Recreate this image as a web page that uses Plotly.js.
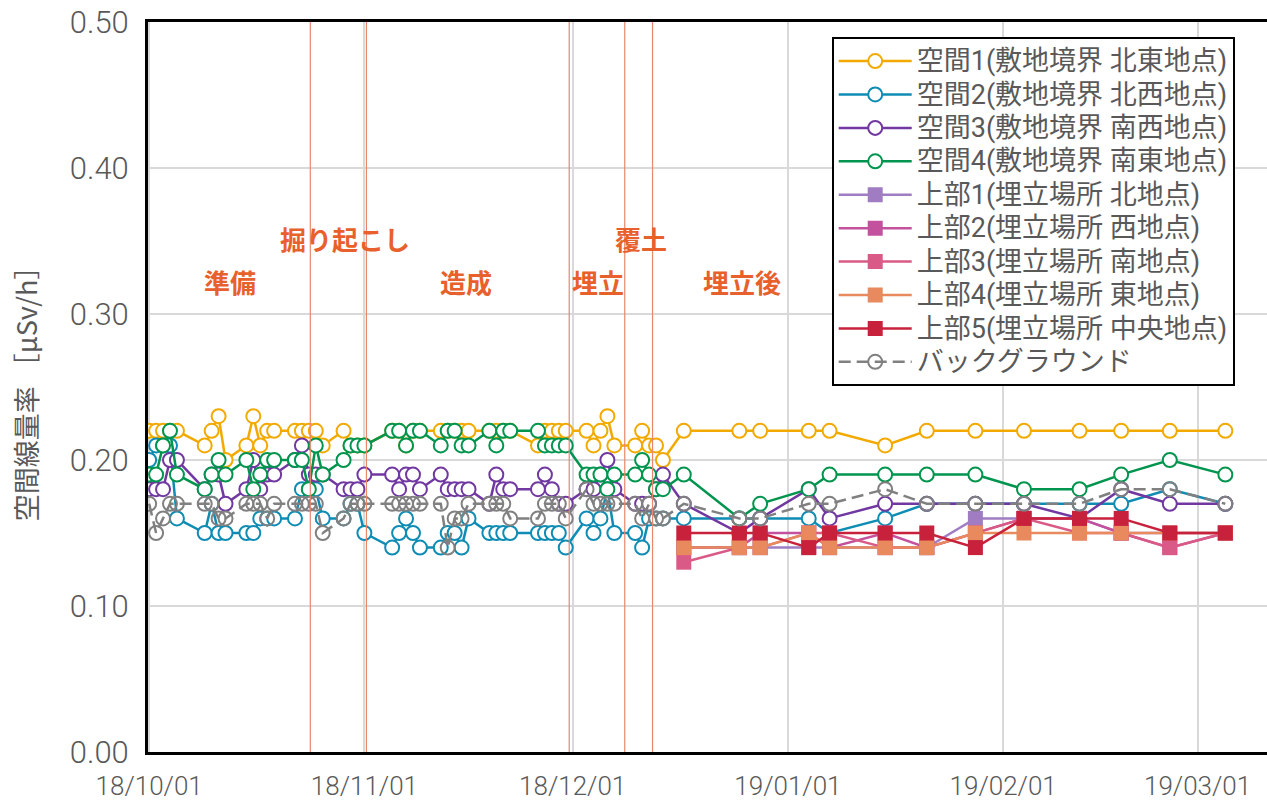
<!DOCTYPE html>
<html>
<head>
<meta charset="utf-8">
<script src="https://cdn.plot.ly/plotly-3.0.1.min.js"></script>
<style>html,body{margin:0;padding:0;background:#fff;}#chart{width:1267px;height:803px;}</style>
</head>
<body>
<div id="chart"></div>
<script>
// ---- measurement dates ----
const dates = [
  '2018-10-01','2018-10-02','2018-10-03','2018-10-04','2018-10-05',
  '2018-10-09','2018-10-10','2018-10-11','2018-10-12',
  '2018-10-15','2018-10-16','2018-10-17','2018-10-18','2018-10-19',
  '2018-10-22','2018-10-23','2018-10-24','2018-10-25','2018-10-26',
  '2018-10-29','2018-10-30','2018-10-31','2018-11-01',
  '2018-11-05','2018-11-06','2018-11-07','2018-11-08','2018-11-09',
  '2018-11-12','2018-11-13','2018-11-14','2018-11-15','2018-11-16',
  '2018-11-19','2018-11-20','2018-11-21','2018-11-22',
  '2018-11-26','2018-11-27','2018-11-28','2018-11-29','2018-11-30',
  '2018-12-03','2018-12-04','2018-12-05','2018-12-06','2018-12-07',
  '2018-12-10','2018-12-11','2018-12-12','2018-12-13','2018-12-14',
  '2018-12-17','2018-12-25','2018-12-28','2019-01-04','2019-01-07',
  '2019-01-15','2019-01-21','2019-01-28','2019-02-04','2019-02-12',
  '2019-02-18','2019-02-25','2019-03-05'
];
const datesLandfill = [
  '2018-12-17','2018-12-25','2018-12-28','2019-01-04','2019-01-07',
  '2019-01-15','2019-01-21','2019-01-28','2019-02-04','2019-02-12',
  '2019-02-18','2019-02-25','2019-03-05'
];

// ---- 空間 (site boundary) ----
const space1 = [0.22,0.22,0.22,0.22,0.22, 0.21,0.22,0.23,0.20, 0.21,0.23,0.21,0.22,0.22,
  0.22,0.22,0.22,0.22,0.21, 0.22,0.21,0.21,0.21, 0.22,0.22,0.21,0.22,0.22,
  0.22,0.22,0.22,0.22,0.22, 0.22,0.22,0.22,0.22, 0.21,0.22,0.22,0.22,0.22,
  0.22,0.21,0.22,0.23,0.21, 0.21,0.22,0.21,0.21,0.20,
  0.22,0.22,0.22,0.22,0.22,0.21,0.22,0.22,0.22,0.22,0.22,0.22,0.22];
const space2 = [0.20,0.21,0.21,0.21,0.16, 0.15,0.17,0.15,0.15, 0.15,0.15,0.16,0.16,0.16,
  0.16,0.18,0.18,0.18,0.16, 0.16,0.17,0.17,0.15, 0.14,0.15,0.16,0.15,0.14,
  0.14,0.15,0.15,0.14,0.16, 0.15,0.15,0.15,0.15, 0.15,0.15,0.15,0.15,0.14,
  0.16,0.15,0.16,0.18,0.15, 0.15,0.14,0.16,0.16,0.16,
  0.16,0.16,0.16,0.16,0.15,0.16,0.17,0.17,0.17,0.17,0.17,0.18,0.17];
const space3 = [0.18,0.18,0.18,0.20,0.20, 0.18,0.19,0.19,0.17, 0.18,0.20,0.18,0.19,0.19,
  0.20,0.21,0.19,0.19,0.19, 0.18,0.18,0.18,0.19, 0.19,0.18,0.19,0.19,0.18,
  0.19,0.18,0.18,0.18,0.18, 0.17,0.19,0.18,0.18, 0.18,0.19,0.18,0.17,0.17,
  0.18,0.18,0.19,0.20,0.18, 0.17,0.17,0.17,0.18,0.19,
  0.17,0.15,0.16,0.18,0.16,0.17,0.17,0.17,0.17,0.16,0.18,0.17,0.17];
const space4 = [0.19,0.19,0.21,0.22,0.19, 0.18,0.19,0.20,0.19, 0.20,0.18,0.19,0.20,0.20,
  0.20,0.20,0.18,0.21,0.19, 0.20,0.21,0.21,0.21, 0.22,0.22,0.21,0.22,0.22,
  0.21,0.22,0.22,0.21,0.21, 0.22,0.21,0.22,0.22, 0.22,0.21,0.21,0.21,0.21,
  0.19,0.19,0.19,0.18,0.19, 0.19,0.20,0.19,0.18,0.18,
  0.19,0.16,0.17,0.18,0.19,0.19,0.19,0.19,0.18,0.18,0.19,0.20,0.19];
const background = [0.17,0.15,0.16,0.17,0.17, 0.17,0.17,0.16,0.16, 0.17,0.17,0.17,0.16,0.17,
  0.17,0.17,0.17,0.17,0.15, 0.16,0.17,0.17,0.17, 0.17,0.17,0.17,0.17,0.17,
  0.17,0.14,0.16,0.16,0.17, 0.17,0.17,0.17,0.16, 0.16,0.17,0.17,0.17,0.16,
  0.18,0.17,0.17,0.17,0.17, 0.17,0.16,0.17,0.16,0.16,
  0.17,0.16,0.16,0.17,0.17,0.18,0.17,0.17,0.17,0.17,0.18,0.18,0.17];

// ---- 上部 (landfill top) ----
const top1 = [0.14,0.14,0.14,0.14,0.14,0.14,0.14,0.16,0.16,0.16,0.15,0.15,0.15];
const top2 = [0.14,0.14,0.15,0.15,0.14,0.15,0.14,0.15,0.16,0.16,0.15,0.14,0.15];
const top3 = [0.13,0.14,0.14,0.15,0.15,0.14,0.14,0.15,0.16,0.15,0.15,0.14,0.15];
const top4 = [0.14,0.14,0.14,0.15,0.14,0.14,0.14,0.15,0.15,0.15,0.15,0.15,0.15];
const top5 = [0.15,0.15,0.15,0.14,0.15,0.15,0.15,0.14,0.16,0.16,0.16,0.15,0.15];

const seriesNames = [
  '空間1(敷地境界 北東地点)','空間2(敷地境界 北西地点)','空間3(敷地境界 南西地点)','空間4(敷地境界 南東地点)',
  '上部1(埋立場所 北地点)','上部2(埋立場所 西地点)','上部3(埋立場所 南地点)','上部4(埋立場所 東地点)','上部5(埋立場所 中央地点)',
  'バックグラウンド'
];

// ---- phases ----
const phaseBoundaries = ['2018-10-24 05:00','2018-11-01 07:00','2018-11-30 12:00','2018-12-08 12:00','2018-12-12 12:00'];
const phaseLabels = ['準備','掘り起こし','造成','埋立','覆土','埋立後'];
const phaseLabelX = ['2018-10-12 14:00','2018-10-29 05:00','2018-11-15 14:00','2018-12-04 15:00','2018-12-10 20:00','2018-12-25 10:00'];
const phaseLabelY = [0.322,0.352,0.322,0.322,0.352,0.322];

const FONT = 'Roboto, "Noto Sans CJK JP", sans-serif';
const JFONT = '"Noto Sans CJK JP", sans-serif';

function legendLabel(name) { return '<span style="font-size:27px">' + name + '</span>'; }

function circleTrace(name, y, color) {
  return {type:'scatter', mode:'lines+markers', name:legendLabel(name), x:dates, y:y,
    line:{color:color, width:2.5},
    marker:{symbol:'circle', size:14, color:'#ffffff', line:{color:color, width:2}}};
}
function squareTrace(name, y, color) {
  return {type:'scatter', mode:'lines+markers', name:legendLabel(name), x:datesLandfill, y:y,
    line:{color:color, width:2.5},
    marker:{symbol:'square', size:15, color:color, line:{width:0}}};
}

const traces = [
  circleTrace(seriesNames[0], space1, '#F2AA00'),
  circleTrace(seriesNames[1], space2, '#0F8CB4'),
  circleTrace(seriesNames[2], space3, '#7038A0'),
  circleTrace(seriesNames[3], space4, '#00954E'),
  squareTrace(seriesNames[4], top1, '#A07DC2'),
  squareTrace(seriesNames[5], top2, '#C4519D'),
  squareTrace(seriesNames[6], top3, '#D95A86'),
  squareTrace(seriesNames[7], top4, '#E88A5D'),
  squareTrace(seriesNames[8], top5, '#C8213B'),
  {type:'scatter', mode:'lines+markers', name:legendLabel(seriesNames[9]), x:dates, y:background,
    line:{color:'#808080', width:2.5, dash:'12px,6px'},
    marker:{symbol:'circle-open', size:14, color:'#808080', line:{color:'#808080', width:2}}}
];

const shapes = phaseBoundaries.map(d => ({type:'line', xref:'x', yref:'paper', x0:d, x1:d, y0:0, y1:1,
  line:{color:'#E9876B', width:1.2}, layer:'above'}));

const annotations = phaseLabels.map((t,i) => ({xref:'x', yref:'y', x:phaseLabelX[i], y:phaseLabelY[i],
  text:'<b>'+t+'</b>', showarrow:false, font:{family:JFONT, size:26, color:'#E8602C'}}));

const layout = {
  width:1267, height:803,
  margin:{l:148, r:0, t:22, b:51, pad:0},
  paper_bgcolor:'#ffffff', plot_bgcolor:'#ffffff',
  font:{family:FONT, color:'#595959'},
  showlegend:true,
  legend:{x:0.611, y:0.979, xanchor:'left', yanchor:'top', bgcolor:'#ffffff',
    bordercolor:'#000000', borderwidth:2, font:{family:FONT, size:23.4, color:'#595959'},
    itemwidth:73, tracegroupgap:0},
  xaxis:{type:'date', range:['2018-09-30 20:00','2019-03-11 00:00'],
    tickformat:'%y/%m/%d', dtick:'M1', tick0:'2018-10-01', ticks:'',
    tickfont:{family:FONT, size:26, weight:300, color:'#595959'}, ticklabelstandoff:9,
    showgrid:true, gridcolor:'#D9D9D9', gridwidth:2,
    showline:true, linecolor:'#000000', linewidth:3, mirror:true, zeroline:false},
  yaxis:{range:[0,0.5], dtick:0.1, tickformat:'.2f', ticks:'',
    tickfont:{family:FONT, size:31, weight:300, color:'#595959'}, ticklabelstandoff:10,
    showgrid:true, gridcolor:'#D9D9D9', gridwidth:2,
    showline:true, linecolor:'#000000', linewidth:3, mirror:true, zeroline:false,
    title:{text:'空間線量率 ［μSv/h］', font:{family:JFONT, size:27, color:'#595959'}, standoff:25}},
  shapes:shapes,
  annotations:annotations
};

Plotly.newPlot('chart', traces, layout, {displayModeBar:false, staticPlot:true});
</script>
</body>
</html>
